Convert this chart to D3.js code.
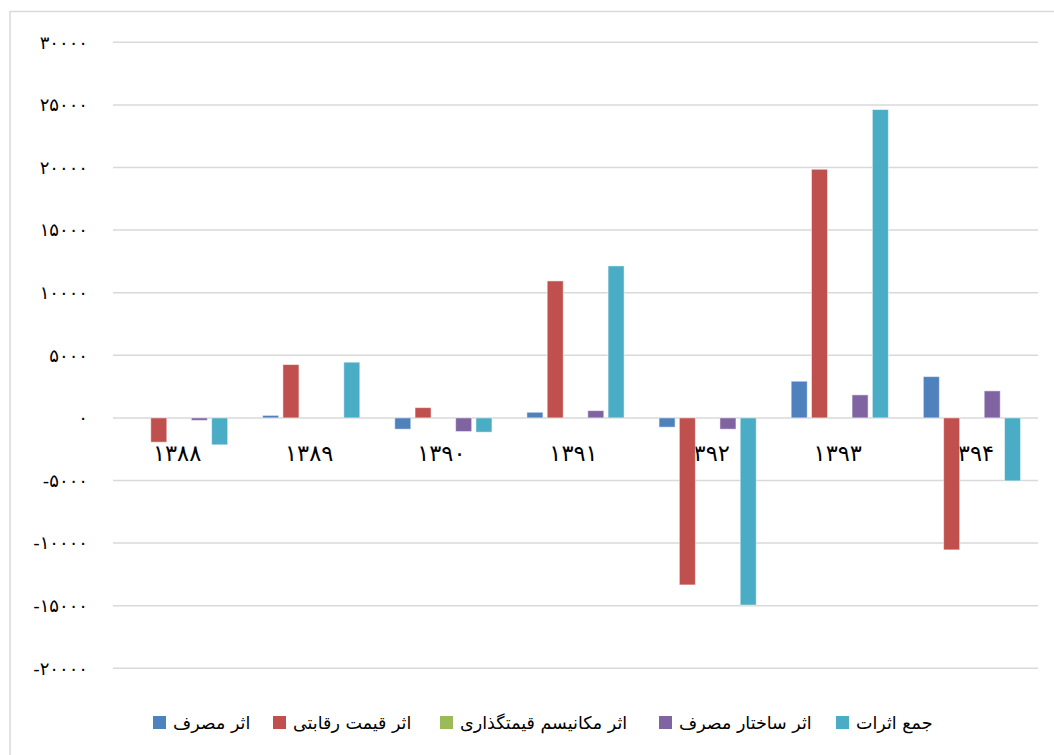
<!DOCTYPE html>
<html>
<head>
<meta charset="utf-8">
<script src="https://cdn.jsdelivr.net/npm/d3@7"></script>
<style>
  html, body { margin: 0; padding: 0; background: #fff; }
  svg { display: block; }
  text { font-family: "DejaVu Sans", "Noto Sans", sans-serif; fill: #000; }
</style>
</head>
<body>
<svg id="chart" width="1054" height="755"></svg>
<script>
// ---- data ----
const years = ["1388", "1389", "1390", "1391", "1392", "1393", "1394"];
const seriesNames = ["اثر مصرف", "اثر قیمت رقابتی", "اثر مکانیسم قیمتگذاری", "اثر ساختار مصرف", "جمع اثرات"];
const seriesColors = ["#4F81BD", "#C0504D", "#9BBB59", "#8064A2", "#4BACC6"];
const consumptionEffect = [0, 200, -900, 450, -740, 2930, 3300];
const competitivePriceEffect = [-1940, 4260, 820, 10940, -13340, 19860, -10540];
const pricingMechanismEffect = [0, 0, 0, 0, 0, 0, 0];
const consumptionStructureEffect = [-200, 0, -1090, 580, -900, 1840, 2160];
const totalEffects = [-2150, 4450, -1140, 12140, -14950, 24630, -5030];
const yTicks = [30000, 25000, 20000, 15000, 10000, 5000, 0, -5000, -10000, -15000, -20000];

const seriesValues = [consumptionEffect, competitivePriceEffect, pricingMechanismEffect, consumptionStructureEffect, totalEffects];

// ---- helpers ----
const faDigits = "۰۱۲۳۴۵۶۷۸۹";
const toFa = s => String(s).replace(/[0-9]/g, d => faDigits[+d]);

const svg = d3.select("#chart");

// outer chart border
svg.append("rect")
  .attr("x", 10).attr("y", 11.5)
  .attr("width", 1100).attr("height", 800)
  .attr("fill", "none")
  .attr("stroke", "#d9d9d9").attr("stroke-width", 1.5);

const plotLeft = 113, plotRight = 1038;
const y = d3.scaleLinear().domain([-20000, 30000]).range([668.3, 42.3]);
const x0 = d3.scaleBand().domain(years).range([plotLeft, plotRight]).paddingInner(0).paddingOuter(0);
const bw = x0.bandwidth();
const groupHalf = 48.6;
const x1 = d3.scaleBand().domain(d3.range(seriesNames.length))
  .range([bw / 2 - groupHalf, bw / 2 + groupHalf]).paddingInner(0.21).paddingOuter(0);

// gridlines
svg.append("g").selectAll("line").data(yTicks).join("line")
  .attr("x1", plotLeft).attr("x2", plotRight)
  .attr("y1", d => y(d)).attr("y2", d => y(d))
  .attr("stroke", "#d9d9d9").attr("stroke-width", 1.5);

// y tick labels
svg.append("g").selectAll("text").data(yTicks).join("text")
  .attr("x", 88).attr("y", d => y(d))
  .attr("dy", "0.35em")
  .attr("text-anchor", "end")
  .attr("direction", "ltr")
  .style("font-size", "18px")
  .text(d => (d < 0 ? "-" : "") + toFa(Math.abs(d)));

// category labels (drawn beneath bars)
svg.append("g").selectAll("text").data(years).join("text")
  .attr("x", d => x0(d) + bw / 2 - 2)
  .attr("y", y(0) + 43)
  .attr("text-anchor", "middle")
  .style("font-size", "22.5px")
  .text(d => toFa(d));

// bars
const barData = [];
years.forEach((yr, i) => {
  seriesValues.forEach((vals, s) => {
    barData.push({ year: yr, s: s, v: vals[i] });
  });
});
svg.append("g").selectAll("rect").data(barData.filter(d => d.v !== 0)).join("rect")
  .attr("x", d => x0(d.year) + x1(d.s))
  .attr("width", x1.bandwidth())
  .attr("y", d => y(Math.max(0, d.v)))
  .attr("height", d => Math.abs(y(d.v) - y(0)))
  .attr("fill", d => seriesColors[d.s])
  .attr("stroke", "#ffffff").attr("stroke-opacity", 0.5).attr("stroke-width", 1);

// legend
const legendSquareX = [153, 273, 440, 659, 836];
const legend = svg.append("g");
seriesNames.forEach((name, i) => {
  legend.append("rect")
    .attr("x", legendSquareX[i]).attr("y", 716)
    .attr("width", 13).attr("height", 13)
    .attr("fill", seriesColors[i]);
  legend.append("text")
    .attr("x", legendSquareX[i] + 20).attr("y", 729)
    .attr("text-anchor", "start")
    .style("font-size", "17.5px")
    .text(name);
});
</script>
</body>
</html>
